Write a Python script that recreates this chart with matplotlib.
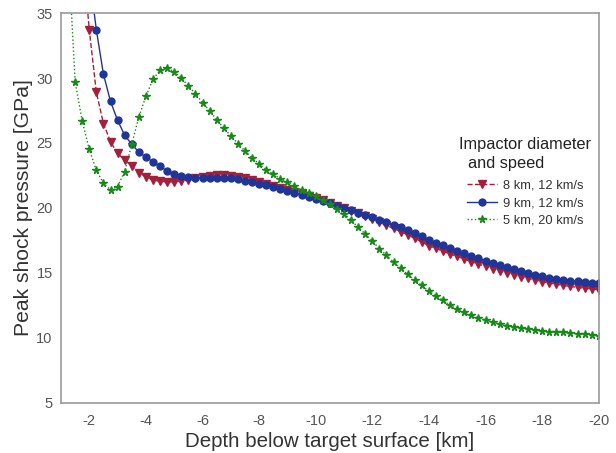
import numpy as np
import matplotlib
matplotlib.use("Agg")
import matplotlib.pyplot as plt

plt.rcParams['font.family'] = ['Liberation Sans', 'DejaVu Sans']
plt.rcParams['axes.unicode_minus'] = False

# depth below surface [km], sampled every 0.25 km
depth_green = np.arange(-1.25, -20.01, -0.25)
depth_red = np.arange(-1.75, -20.01, -0.25)
depth_blue = np.arange(-2.0, -20.01, -0.25)

# 5 km, 20 km/s
p_green = [40.0,
           29.7, 26.7, 24.5,
           22.9, 21.9, 21.4, 21.65,
           22.8, 24.9, 27.0, 28.6,
           29.9, 30.6, 30.76, 30.5,
           30.0, 29.4, 28.8, 28.1,
           27.5, 26.8, 26.15, 25.55,
           24.95, 24.4, 23.85, 23.4,
           22.95, 22.6, 22.25, 22.0,
           21.66, 21.4, 21.15, 20.88,
           20.6, 20.3, 19.95, 19.56,
           19.04, 18.52, 18.0, 17.44,
           16.86, 16.34, 15.83, 15.35,
           14.88, 14.43, 14.03, 13.58,
           13.22, 12.88, 12.5, 12.23,
           11.97, 11.77, 11.54, 11.38,
           11.2, 11.07, 10.94, 10.81,
           10.76, 10.69, 10.61, 10.56,
           10.48, 10.43, 10.41, 10.36,
           10.33, 10.3, 10.25, 10.15]

# 8 km, 12 km/s
p_red = [40.0,
         33.7,
         28.9, 26.5, 25.1, 24.2,
         23.7, 23.2, 22.7, 22.4,
         22.15, 22.05, 22.0, 22.0,
         22.05, 22.15, 22.3, 22.4,
         22.48, 22.52, 22.52, 22.48,
         22.4, 22.3, 22.17, 22.03,
         21.88, 21.72, 21.56, 21.4,
         21.24, 21.08, 20.92, 20.76,
         20.58, 20.38, 20.18, 19.98,
         19.78, 19.58, 19.37, 19.15,
         18.9, 18.66, 18.42, 18.18,
         17.92, 17.66, 17.38, 17.1,
         16.88, 16.66, 16.45, 16.26,
         16.06, 15.87, 15.68, 15.5,
         15.33, 15.16, 15.0, 14.85,
         14.7, 14.57, 14.45, 14.33,
         14.22, 14.12, 14.03, 13.95,
         13.88, 13.82, 13.76, 13.7]

# 9 km, 12 km/s
p_blue = [38.0,
          33.7,
          30.3, 28.2, 26.75,
          25.6, 24.9, 24.3, 23.9,
          23.55, 23.2, 22.85, 22.6,
          22.45, 22.38, 22.33, 22.3,
          22.3, 22.32, 22.32, 22.28,
          22.2, 22.1, 22.0, 21.87,
          21.75, 21.6, 21.45, 21.3,
          21.15, 21.0, 20.85, 20.7,
          20.52, 20.35, 20.18, 20.0,
          19.82, 19.64, 19.46, 19.28,
          19.1, 18.9, 18.7, 18.5,
          18.27, 18.05, 17.8, 17.55,
          17.33, 17.12, 16.92, 16.72,
          16.52, 16.33, 16.14, 15.95,
          15.77, 15.6, 15.44, 15.28,
          15.13, 14.99, 14.86, 14.74,
          14.64, 14.55, 14.47, 14.4,
          14.34, 14.29, 14.24, 14.2]

xticks = [-2, -4, -6, -8, -10, -12, -14, -16, -18, -20]
yticks = [5, 10, 15, 20, 25, 30, 35]

fig = plt.figure(figsize=(6.16, 4.53), dpi=100)
ax = fig.add_axes([0.099, 0.111, 0.873, 0.86])

ax.plot(depth_red, p_red, ls='--', lw=1, color='#a3203c', marker='v',
        ms=5.5, label='8 km, 12 km/s')
ax.plot(depth_blue, p_blue, ls='-', lw=1, color='#1f3597', marker='o',
        ms=5, label='9 km, 12 km/s')
ax.plot(depth_green, p_green, ls=':', lw=1, color='#178a1a', marker='*',
        ms=5.5, label='5 km, 20 km/s')

ax.set_xlim(-1, -20)
ax.set_ylim(5, 35)
ax.set_xticks(xticks)
ax.set_yticks(yticks)
ax.tick_params(axis='x', length=0, labelsize=10.5, labelcolor='#555555', pad=8)
ax.tick_params(axis='y', length=0, labelsize=10.5, labelcolor='#555555', pad=6)

for s in ax.spines.values():
    s.set_color('#9a9a9a')
    s.set_linewidth(1.2)

ax.set_xlabel('Depth below target surface [km]', fontsize=14.8, color='#333333', labelpad=3)
ax.set_ylabel('Peak shock pressure [GPa]', fontsize=15.2, color='#333333', labelpad=2)

# legend title drawn separately so the entries sit indented under it
ax.text(0.740, 0.681, 'Impactor diameter\n  and speed', transform=ax.transAxes,
        fontsize=11.8, color='#222222', va='top', ha='left', linespacing=1.28)
ax.legend(frameon=False, fontsize=9.3, loc='upper left', bbox_to_anchor=(0.755, 0.572),
          borderpad=0, borderaxespad=0, handlelength=2.3, handletextpad=0.47,
          labelspacing=0.42, labelcolor='#333333')

fig.savefig('out.png', dpi=100)
